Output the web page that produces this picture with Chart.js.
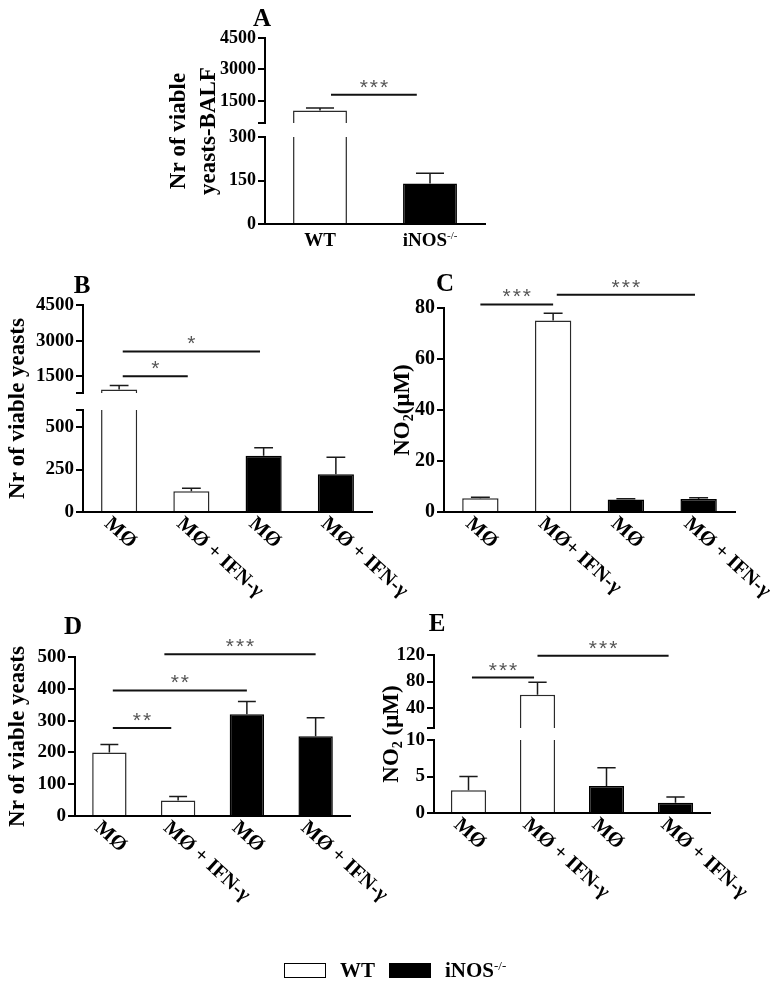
<!DOCTYPE html>
<html>
<head>
<meta charset="utf-8">
<title>Viable yeasts and NO2 production</title>
<script src="https://cdn.jsdelivr.net/npm/chart.js@4.4.1/dist/chart.umd.min.js"></script>
<style>
  body { margin: 0; background: #fff; }
  #figure { position: relative; width: 780px; height: 988px; overflow: hidden; }
  #figure canvas { position: absolute; left: 0; top: 0; }
</style>
</head>
<body>
<div id="figure"></div>
<script>
// Values

// A - yeasts recovered from BALF
const balfGroups = ['WT', 'iNOS^{-/-}'];
const balfFill = ['#ffffff', '#000000'];
const balfMean = [1050, 140];
const balfSem = [120, 35];
const balfTicksHigh = [1500, 3000, 4500];
const balfTicksLow = [0, 150, 300];

// B-E share the same four groups
const macroLabels = ['MØ', 'MØ + IFN-γ', 'MØ', 'MØ + IFN-γ'];
const macroLabelsC = ['MØ', 'MØ+ IFN-γ', 'MØ', 'MØ + IFN-γ'];
const macroFill = ['#ffffff', '#ffffff', '#000000', '#000000'];

const yeastsB = [950, 122, 331, 222];
const yeastsBSem = [170, 18, 47, 100];
const yeastsBTicksHigh = [1500, 3000, 4500];
const yeastsBTicksLow = [0, 250, 500];

const no2C = [5.4, 75.1, 4.9, 5.1];
const no2CSem = [0.4, 2.8, 0.3, 0.5];
const no2CTicks = [0, 20, 40, 60, 80];

const yeastsD = [200, 49, 320, 251];
const yeastsDSem = [25, 12, 40, 58];
const yeastsDTicks = [0, 100, 200, 300, 400, 500];

const no2E = [3.1, 60, 3.7, 1.4];
const no2ESem = [1.9, 19, 2.5, 0.8];
const no2ETicksHigh = [40, 80, 120];
const no2ETicksLow = [0, 5, 10];

// significance bars: [from group, to group, height in axis units, stars]
const sigA = [[0.1, 0.88, 1800, '***']];
const sigB = [[0.05, 0.95, 1500, '*'], [0.05, 1.95, 2550, '*']];
const sigC = [[0, 1, 81.4, '***'], [1.05, 2.95, 85.2, '***']];
const sigD = [[0.05, 0.9, 277, '**'], [0.05, 2, 395, '**'], [0.8, 3, 509, '***']];
const sigE = [[0.05, 0.95, 86, '***'], [1, 2.9, 119, '***']];

const legendNames = ['WT', 'iNOS^{-/-}'];
const legendFill = ['#ffffff', '#000000'];

const W = 780, H = 988;
const AXIS_W = 70;
const SERIF = '"Liberation Serif", "Times New Roman", serif';

// Panel layout (page pixels). Broken axes are two charts stacked on each other.
const panels = [
  {
    letter: ['A', 262, 18], labels: balfGroups, fill: balfFill, mean: balfMean, sem: balfSem,
    left: 265, right: 485, barPct: 0.49, flatLabels: true, tickSize: 18,
    yTitle: [['Nr of viable', 88], ['yeasts-BALF', 58]],
    segments: [
      { top: 38, bottom: 123, min: 450, max: 4500, ticks: balfTicksHigh, sig: sigA },
      { top: 137, bottom: 224, min: 0, max: 300, ticks: balfTicksLow }
    ]
  },
  {
    letter: ['B', 82, 285], labels: macroLabels, fill: macroFill, mean: yeastsB, sem: yeastsBSem,
    left: 83, right: 372, barPct: 0.5, tickSize: 19,
    yTitle: [['Nr of viable yeasts', 67]],
    segments: [
      { top: 305, bottom: 393, min: 800, max: 4500, ticks: yeastsBTicksHigh, sig: sigB },
      { top: 410, bottom: 512, min: 0, max: 600, ticks: yeastsBTicksLow }
    ]
  },
  {
    letter: ['C', 445, 283], labels: macroLabelsC, fill: macroFill, mean: no2C, sem: no2CSem,
    left: 444, right: 735, barPct: 0.5, tickSize: 20,
    yTitle: [['NO_{2}(μM)', 43]],
    segments: [{ top: 308, bottom: 512, min: 0, max: 80, ticks: no2CTicks, sig: sigC }]
  },
  {
    letter: ['D', 73, 626], labels: macroLabels, fill: macroFill, mean: yeastsD, sem: yeastsDSem,
    left: 75, right: 350, barPct: 0.5, tickSize: 19,
    yTitle: [['Nr of viable yeasts', 59]],
    segments: [{ top: 657, bottom: 816, min: 0, max: 500, ticks: yeastsDTicks, sig: sigD }]
  },
  {
    letter: ['E', 437, 623], labels: macroLabels, fill: macroFill, mean: no2E, sem: no2ESem,
    left: 434, right: 710, barPct: 0.51, tickSize: 19, legend: true,
    yTitle: [['NO_{2} (μM)', 44]],
    segments: [
      { top: 655, bottom: 728, min: 10, max: 120, ticks: no2ETicksHigh, sig: sigE },
      { top: 740, bottom: 813, min: 0, max: 10, ticks: no2ETicksLow }
    ]
  }
];

// text with ^{sup} and _{sub} pieces
function parseRich(str) {
  const parts = [];
  const re = /([_^])\{([^}]*)\}/g;
  let last = 0, m;
  while ((m = re.exec(str))) {
    if (m.index > last) parts.push({ t: str.slice(last, m.index), k: '' });
    parts.push({ t: m[2], k: m[1] });
    last = re.lastIndex;
  }
  if (last < str.length) parts.push({ t: str.slice(last), k: '' });
  return parts;
}

function drawRich(ctx, str, x, y, size, align) {
  const parts = parseRich(str);
  const fontOf = k => k === '^' ? `${Math.round(size * 0.6)}px ${SERIF}`
    : k === '_' ? `bold ${Math.round(size * 0.62)}px ${SERIF}` : `bold ${size}px ${SERIF}`;
  let total = 0;
  parts.forEach(p => { ctx.font = fontOf(p.k); p.w = ctx.measureText(p.t).width; total += p.w; });
  let cx = align === 'center' ? x - total / 2 : align === 'right' ? x - total : x;
  ctx.textAlign = 'left';
  ctx.textBaseline = 'alphabetic';
  const base = y + size * 0.33;
  parts.forEach(p => {
    ctx.font = fontOf(p.k);
    const dy = p.k === '^' ? -size * 0.36 : p.k === '_' ? size * 0.2 : 0;
    ctx.fillText(p.t, cx, base + dy);
    cx += p.w;
  });
}

// error bars, significance bars, rotated group labels, titles, legend
function makeDecor(d) {
  return {
    id: 'decor',
    afterDraw(chart) {
      const ctx = chart.ctx, xs = chart.scales.x, ys = chart.scales.y, a = chart.chartArea;
      const values = chart.data.datasets[0].data;
      const meta = chart.getDatasetMeta(0);

      ctx.save();
      ctx.beginPath();
      ctx.rect(a.left, a.top - 1, a.right - a.left, a.bottom - a.top + 1);
      ctx.clip();
      ctx.strokeStyle = '#1a1a1a';
      ctx.lineWidth = 1.5;
      d.sem.forEach((e, i) => {
        const cx = xs.getPixelForValue(i);
        const half = meta.data[i].width * 0.26;
        const yTop = ys.getPixelForValue(values[i]);
        const yCap = ys.getPixelForValue(values[i] + e);
        ctx.beginPath();
        ctx.moveTo(cx, yTop);
        ctx.lineTo(cx, yCap);
        ctx.moveTo(cx - half, yCap);
        ctx.lineTo(cx + half, yCap);
        ctx.stroke();
      });
      ctx.restore();

      ctx.save();
      (d.sig || []).forEach(([from, to, level, stars]) => {
        const yL = ys.getPixelForValue(level);
        const x1 = xs.getPixelForValue(from), x2 = xs.getPixelForValue(to);
        ctx.strokeStyle = '#111';
        ctx.lineWidth = 2;
        ctx.beginPath();
        ctx.moveTo(x1, yL);
        ctx.lineTo(x2, yL);
        ctx.stroke();
        ctx.fillStyle = '#555';
        ctx.font = '21px "Liberation Sans", sans-serif';
        ctx.textAlign = 'center';
        ctx.textBaseline = 'alphabetic';
        ctx.letterSpacing = '2px';
        ctx.fillText(stars, (x1 + x2) / 2 + 1, yL - 1);
        ctx.letterSpacing = '0px';
      });
      ctx.restore();

      if (!d.bottom) return;
      ctx.save();
      ctx.fillStyle = '#000';
      d.labels.forEach((lab, i) => {
        const cx = xs.getPixelForValue(i);
        if (d.flatLabels) {
          drawRich(ctx, lab, cx, a.bottom + 16, 19, 'center');
        } else {
          ctx.save();
          ctx.translate(cx - 11, a.bottom + 8);
          ctx.rotate(42 * Math.PI / 180);
          drawRich(ctx, lab, 0, 0, 20.5, 'left');
          ctx.restore();
        }
      });

      const midY = (d.panelTop + a.bottom) / 2;
      d.yTitle.forEach(([txt, off]) => {
        ctx.save();
        ctx.translate(a.left - off, midY);
        ctx.rotate(-Math.PI / 2);
        drawRich(ctx, txt, 0, 0, 23, 'center');
        ctx.restore();
      });

      drawRich(ctx, d.letter[0], d.letter[1], d.letter[2], 25, 'center');

      if (d.legend) {
        let lx = 284;
        const ly = 963;
        legendNames.forEach((name, i) => {
          ctx.fillStyle = legendFill[i];
          ctx.fillRect(lx, ly, 42, 15);
          ctx.strokeStyle = '#000';
          ctx.lineWidth = 1;
          ctx.strokeRect(lx + 0.5, ly + 0.5, 41, 14);
          ctx.fillStyle = '#000';
          drawRich(ctx, name, lx + 56, ly + 7.5, 21, 'left');
          lx += 105;
        });
      }
      ctx.restore();
    }
  };
}

const fig = document.getElementById('figure');

panels.forEach(p => {
  const broken = p.segments.length > 1;
  p.segments.forEach((seg, si) => {
    const isBottom = si === p.segments.length - 1;
    const isTopOfBreak = broken && si === 0;
    const tickVals = seg.ticks.slice();
    if (isTopOfBreak) tickVals.unshift(seg.min);
    if (broken && isBottom && !tickVals.includes(seg.max)) tickVals.push(seg.max);

    const cv = document.createElement('canvas');
    cv.width = W; cv.height = H;
    cv.style.width = W + 'px'; cv.style.height = H + 'px';
    fig.appendChild(cv);

    new Chart(cv, {
      type: 'bar',
      data: {
        labels: p.labels,
        datasets: [{
          data: p.mean,
          backgroundColor: p.fill,
          borderColor: p.fill.map(f => f === '#000000' ? '#000' : '#2a2a2a'),
          borderWidth: 1.5,
          categoryPercentage: 1,
          barPercentage: p.barPct,
          clip: 0
        }]
      },
      options: {
        responsive: false,
        animation: false,
        events: [],
        layout: { padding: { left: p.left - AXIS_W, right: W - p.right, top: seg.top, bottom: H - seg.bottom } },
        plugins: { legend: { display: false }, tooltip: { enabled: false } },
        scales: {
          x: {
            offset: true,
            grid: { display: false },
            border: { display: isBottom, color: '#000', width: 2, z: 1 },
            ticks: { display: false },
            afterFit: s => { s.height = 0; }
          },
          y: {
            min: seg.min,
            max: seg.max,
            afterBuildTicks: s => { s.ticks = tickVals.map(v => ({ value: v })); },
            afterFit: s => { s.width = AXIS_W; },
            border: { color: '#000', width: 2, z: 1 },
            grid: { drawOnChartArea: false, drawTicks: true, tickLength: 7, color: '#000', lineWidth: 2 },
            ticks: {
              autoSkip: false,
              padding: 2,
              color: '#000',
              font: { family: SERIF, weight: 'bold', size: p.tickSize },
              callback: v => seg.ticks.includes(v) ? String(v) : ''
            }
          }
        }
      },
      plugins: [makeDecor({
        sem: p.sem,
        sig: seg.sig,
        bottom: isBottom,
        labels: p.labels,
        flatLabels: p.flatLabels,
        yTitle: p.yTitle,
        letter: p.letter,
        legend: p.legend,
        panelTop: p.segments[0].top
      })]
    });
  });
});
</script>
</body>
</html>
